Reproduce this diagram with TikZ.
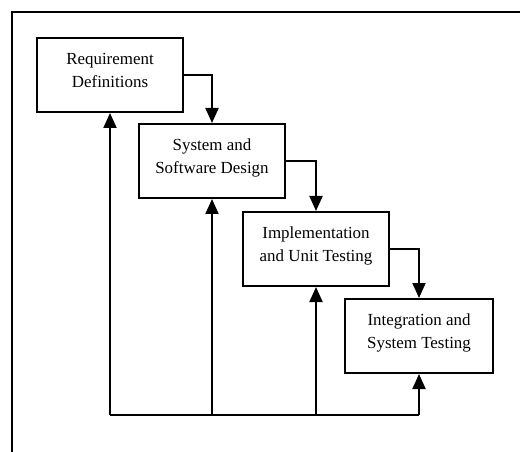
\documentclass[tikz,border=0pt]{standalone}
\usepackage{fontspec}
\setmainfont{Liberation Serif}
\usetikzlibrary{arrows.meta}
\begin{document}
\begin{tikzpicture}[x=1bp,y=-1bp,
  phase/.style={draw, line width=2bp, rectangle, inner sep=0pt,
    align=center, font=\fontsize{17}{23}\selectfont, text depth=10pt},
  flow/.style={line width=2bp, -{Triangle[length=15bp,width=13bp]}},
  rail/.style={line width=2bp}]
  \useasboundingbox (0,0) rectangle (520,452);
  % outer frame
  \draw[line width=2bp] (12,452) -- (12,12) -- (520,12);
  % the four phases
  \node[phase, minimum width=146bp, minimum height=74bp] (b1) at (110,75)
    {Requirement\\Definitions};
  \node[phase, minimum width=146bp, minimum height=74bp] (b2) at (212,161)
    {System and\\Software Design};
  \node[phase, minimum width=146bp, minimum height=74bp] (b3) at (316,249)
    {Implementation\\and Unit Testing};
  \node[phase, minimum width=148bp, minimum height=74bp] (b4) at (419,336)
    {Integration and\\System Testing};
  % forward flow
  \draw[flow] (b1.east) -| (b2.north);
  \draw[flow] (b2.east) -| (b3.north);
  \draw[flow] (b3.east) -| (b4.north);
  % feedback rail
  \coordinate (base) at (0,415);
  \draw[rail] (b1.south |- base) -- (b4.south |- base);
  \draw[flow] (b1.south |- base) -- (b1.south);
  \draw[flow] (b2.south |- base) -- (b2.south);
  \draw[flow] (b3.south |- base) -- (b3.south);
  \draw[flow] (b4.south |- base) -- (b4.south);
\end{tikzpicture}
\end{document}
